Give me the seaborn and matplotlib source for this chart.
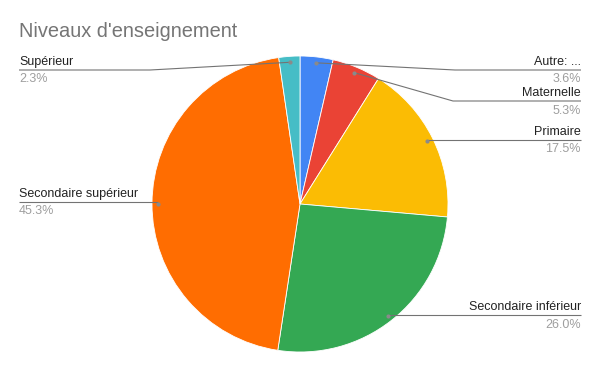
import numpy as np
import matplotlib
matplotlib.use('Agg')
import matplotlib.pyplot as plt
import seaborn as sns

# données
categories = ['Autre: ...', 'Maternelle', 'Primaire', 'Secondaire inférieur',
              'Secondaire supérieur', 'Supérieur']
values = [3.6, 5.3, 17.5, 26.0, 45.3, 2.3]
colors = ['#4285F4', '#EA4335', '#FBBC04', '#34A853', '#FF6D01', '#46BDC6']

sns.set_style('white')
plt.rcParams['font.family'] = ['Liberation Sans', 'DejaVu Sans']

W, H = 600, 371
CX, CY, R = 300, 204, 148


def py(y):
    # coordonnées pixel (haut -> bas) vers axe
    return H - y


fig = plt.figure(figsize=(6, 3.71), dpi=100)
ax = fig.add_axes([0, 0, 1, 1])

wedges, _ = ax.pie(values, colors=sns.color_palette(colors), startangle=90,
                   counterclock=False, center=(CX, py(CY)), radius=R,
                   wedgeprops=dict(edgecolor='white', linewidth=0.6))

# mise en page des étiquettes: (côté, y du trait, x du coude)
layout = {
    'Autre: ...': ('right', 70, 455),
    'Maternelle': ('right', 101, 453),
    'Primaire': ('right', 140, None),
    'Secondaire inférieur': ('right', 315, None),
    'Secondaire supérieur': ('left', 202, None),
    'Supérieur': ('left', 70, 150),
}
X_LEFT, X_RIGHT = 19, 581
line_c = '#737373'

for w, cat, v in zip(wedges, categories, values):
    ang = np.deg2rad((w.theta1 + w.theta2) / 2)
    dx = CX + 0.96 * R * np.cos(ang)
    dy = py(CY) + 0.96 * R * np.sin(ang)
    side, ly, ex = layout[cat]
    end = X_RIGHT if side == 'right' else X_LEFT
    if ex is None:
        xs, ys = [dx, end], [py(ly), py(ly)]
    else:
        xs, ys = [dx, ex, end], [dy, py(ly), py(ly)]
    ax.plot(xs, ys, color=line_c, lw=0.8, solid_capstyle='butt', zorder=3)
    ax.plot(dx, dy, 'o', ms=3, color='#8a8a8a', mec='none', zorder=4)
    ha = 'right' if side == 'right' else 'left'
    ax.text(end, py(ly) + 2, cat, ha=ha, va='bottom', fontsize=9, color='#222222')
    ax.text(end, py(ly) - 3.5, f'{v:.1f}%', ha=ha, va='top', fontsize=9, color='#9e9e9e')

ax.text(19, py(37), "Niveaux d'enseignement", ha='left', va='baseline',
        fontsize=14.4, color='#757575')

ax.set_xlim(0, W)
ax.set_ylim(0, H)
ax.set_aspect('equal')
ax.axis('off')

plt.savefig('out.png', dpi=100)
plt.close()
